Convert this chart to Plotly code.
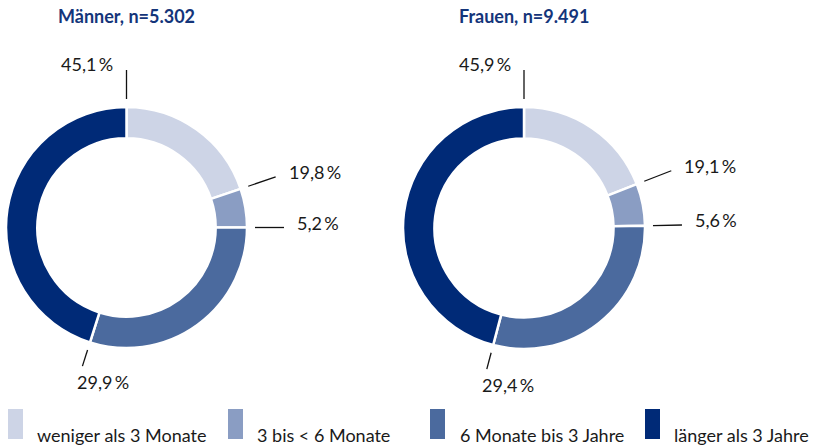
import math
import plotly.graph_objects as go

W, H = 816, 448

categories = ["weniger als 3 Monate", "3 bis < 6 Monate", "6 Monate bis 3 Jahre", "länger als 3 Jahre"]
maenner = [19.8, 5.2, 29.9, 45.1]
frauen = [19.1, 5.6, 29.4, 45.9]
titles = ["Männer, n=5.302", "Frauen, n=9.491"]
colors = ["#CDD4E6", "#8A9DC3", "#4B6A9E", "#002A77"]

FONT = "Lato"
TEXT_COL = "#1a1a1a"
TITLE_COL = "#14357A"

# pie geometry (pixels): centre x, centre y, outer radius
pies = [(126.5, 227.5, 120.5), (524.0, 228.0, 121.0)]
HOLE = 0.74


def px(x):
    return x / W


def py(y):
    return 1 - y / H


def fmt(v):
    return f"{v:.1f}".replace(".", ",") + "\u2009%"


fig = go.Figure()
shapes = []
annotations = []

for (cx, cy, R), vals, title in zip(pies, [maenner, frauen], titles):
    fig.add_trace(go.Pie(
        labels=categories, values=vals, sort=False, direction="clockwise",
        rotation=0, hole=HOLE, textinfo="none", hoverinfo="label+percent",
        marker=dict(colors=colors, line=dict(color="white", width=2.5)),
        domain=dict(x=[px(cx - R), px(cx + R)], y=[py(cy + R), py(cy - R)]),
        showlegend=False,
    ))
    annotations.append(dict(
        x=px(cx), y=py(16), xref="paper", yref="paper", text=f"<b>{title}</b>",
        showarrow=False, xanchor="center", yanchor="middle",
        font=dict(family=FONT, size=18, color=TITLE_COL),
    ))
    total = sum(vals)
    cum = 0
    for v in vals:
        cum += v
        ang = cum / total * 360.0
        a = math.radians(ang)
        bottom = 135 < ang < 225
        r1 = R + 8
        r2 = R + (25 if bottom else 37)
        x1, y1 = cx + r1 * math.sin(a), cy - r1 * math.cos(a)
        x2, y2 = cx + r2 * math.sin(a), cy - r2 * math.cos(a)
        shapes.append(dict(type="line", xref="paper", yref="paper",
                           x0=px(x1), y0=py(y1), x1=px(x2), y1=py(y2),
                           line=dict(color="#111111", width=1.3)))
        if bottom:
            tx, ty, xa = x2 + 21, y2 + 16, "center"
        elif 45 <= ang <= 135:
            tx, ty, xa = x2 + 11, y2 - 5, "left"
        else:
            tx, ty, xa = x2 - 11, y2 - 6, "right"
        annotations.append(dict(
            x=px(tx), y=py(ty), xref="paper", yref="paper", text=fmt(v),
            showarrow=False, xanchor=xa, yanchor="middle",
            font=dict(family=FONT, size=18, color=TEXT_COL),
        ))

# manual legend
leg_rect_x = [8, 228, 430, 645]
leg_text_x = [35, 255, 458, 672]
for col, lab, rx, tx in zip(colors, categories, leg_rect_x, leg_text_x):
    shapes.append(dict(type="rect", xref="paper", yref="paper",
                       x0=px(rx), x1=px(rx + 15), y0=py(439), y1=py(409),
                       fillcolor=col, line=dict(width=0)))
    annotations.append(dict(
        x=px(tx), y=py(435), xref="paper", yref="paper", text=lab,
        showarrow=False, xanchor="left", yanchor="middle",
        font=dict(family=FONT, size=18, color=TEXT_COL),
    ))

fig.update_layout(
    width=W, height=H, margin=dict(l=0, r=0, t=0, b=0),
    paper_bgcolor="white", plot_bgcolor="white",
    shapes=shapes, annotations=annotations,
)

fig.write_html(
    "out.html",
    config={"displayModeBar": False},
    post_script="document.body.style.margin='0';document.body.style.overflow='hidden';",
)
